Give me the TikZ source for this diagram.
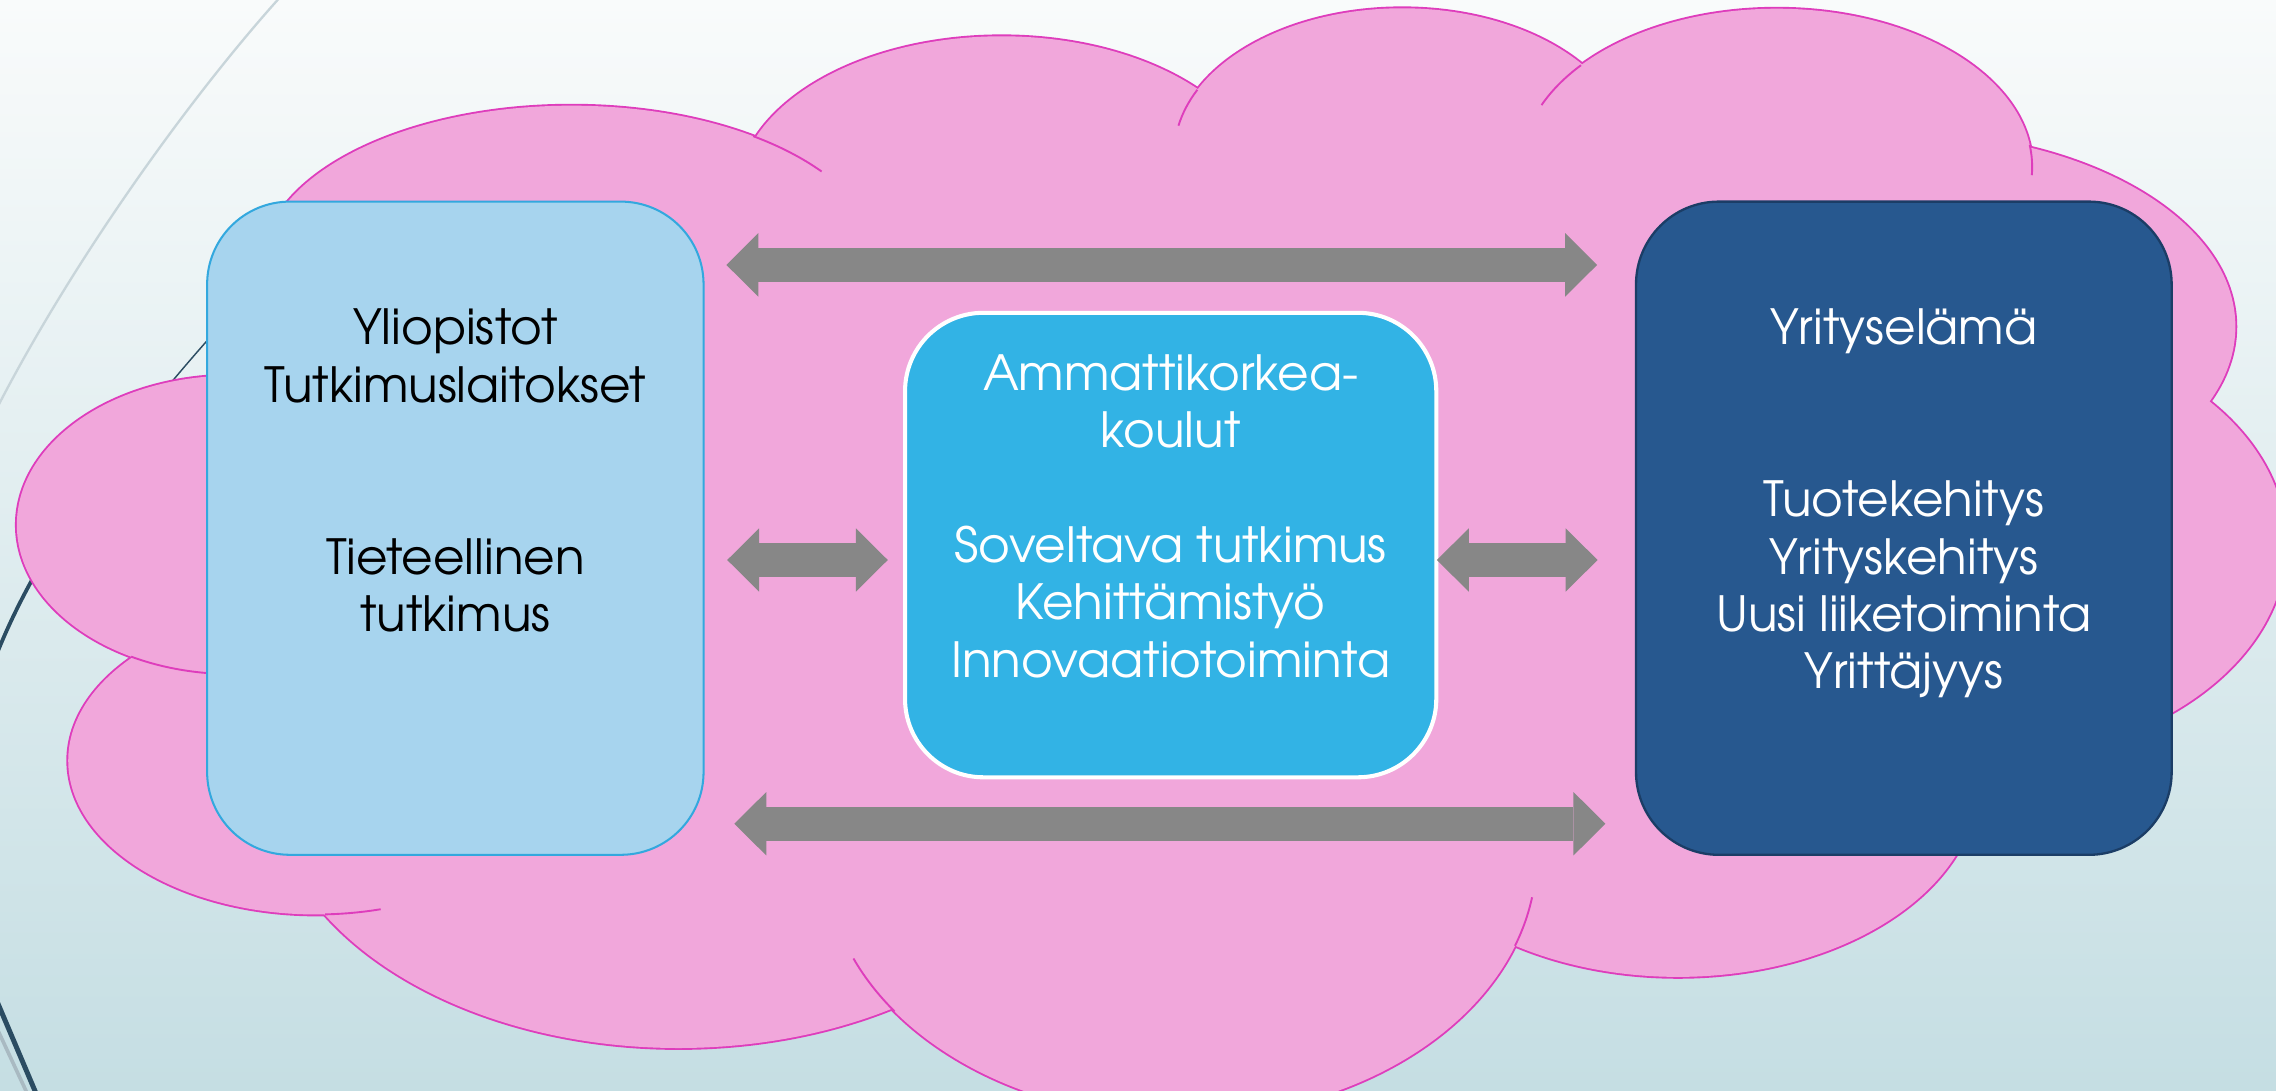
\documentclass[tikz,border=0pt]{standalone}
\usepackage{fontspec}
\setmainfont{TeX Gyre Adventor}
\usetikzlibrary{arrows.meta}
\definecolor{bgtop}{HTML}{F9FBFB}
\definecolor{bgbot}{HTML}{C5DEE3}
\definecolor{cloudfill}{HTML}{F1A7DB}
\definecolor{cloudline}{HTML}{DE3DBC}
\definecolor{lbfill}{HTML}{A7D4EE}
\definecolor{lbline}{HTML}{33A8DE}
\definecolor{mbfill}{HTML}{32B3E5}
\definecolor{rbfill}{HTML}{27588F}
\definecolor{rbline}{HTML}{1B3D66}
\definecolor{arrowgrey}{HTML}{878787}
\definecolor{navy}{HTML}{2B4C62}
\definecolor{paleline}{HTML}{C8D5DA}
\begin{document}
\begin{tikzpicture}[x=1pt,y=-1pt,
  lobeline/.style={draw=cloudline, line width=2.6pt},
  lobefill/.style={fill=cloudfill},
  tailline/.style={draw=cloudline, line width=1.3pt},
  boxbase/.style={rectangle, rounded corners=57pt, minimum width=342pt, minimum height=450pt, inner sep=0pt},
  leftbox/.style={boxbase, fill=lbfill, draw=lbline, line width=1.4pt},
  rightbox/.style={boxbase, minimum width=369pt, fill=rbfill, draw=rbline, line width=1.6pt},
  midbox/.style={boxbase, rounded corners=54pt, minimum width=366pt, minimum height=320pt, fill=mbfill, draw=white, line width=2.8pt},
  txt/.style={anchor=base, inner sep=0pt, font=\fontsize{33.4}{39.6}\selectfont},
  dbl/.style={draw=arrowgrey, line width=23.4pt,
    {Triangle[width=43.7pt,length=22pt,line width=0pt]}-{Triangle[width=43.7pt,length=22pt,line width=0pt]}}
]
\useasboundingbox (0,0) rectangle (1568,751);
\clip (0,0) rectangle (1568,751);
% background
\shade[top color=bgtop, bottom color=bgbot] (0,0) rectangle (1568,751);
% decorative lines
\draw[paleline, line width=1.6pt] (193,-2) .. controls (130,68) and (50,180) .. (-2,281);
\draw[navy, line width=1pt] (165,210) .. controls (132.7,244.9) and (98.95,284.9) .. (69.5,325.55);
\draw[navy, line width=2.6pt] (69.5,325.55) .. controls (40.1,366.2) and (15,407.5) .. (-2,450);
\draw[paleline!80!navy, line width=2.5pt] (-6,700) -- (20,756);
\draw[navy, line width=3.4pt] (-2,690) -- (26,756);
% cloud outlines
\foreach \cx/\cy/\rx/\ry in {393.7/182.8/213/110, 690/135/182/110, 966/105.7/157/100,
  1224/115/176/109, 1309.5/225/230.5/133.7, 1360/375/215/150, 1156/538.8/206.6/134.2,
  813.5/590/245/180, 467.5/537/282/185, 218/524/171/106, 160/361.6/148.4/102.8}
  \draw[lobeline] (\cx,\cy) ellipse [x radius=\rx, y radius=\ry];
% cloud fill
\foreach \cx/\cy/\rx/\ry in {393.7/182.8/213/110, 690/135/182/110, 966/105.7/157/100,
  1224/115/176/109, 1309.5/225/230.5/133.7, 1360/375/215/150, 1156/538.8/206.6/134.2,
  813.5/590/245/180, 467.5/537/282/185, 218/524/171/106, 160/361.6/148.4/102.8}
  \fill[lobefill] (\cx,\cy) ellipse [x radius=\rx, y radius=\ry];
\fill[lobefill] (200,160) -- (520,120) -- (830,90) -- (1100,70) -- (1400,130) -- (1500,300)
  -- (1490,480) -- (1340,585) -- (1050,640) -- (610,690) -- (250,610) -- (150,470) -- (150,270) -- cycle;
% inner tails
\draw[tailline] (393.7,182.8) ++(-54:213 and 110) arc[start angle=-54, end angle=-36, x radius=213, y radius=110];
\draw[tailline] (966,105.7) ++(206:157 and 100) arc[start angle=206, end angle=191, x radius=157, y radius=100];
\draw[tailline] (1224,115) ++(220:176 and 109) arc[start angle=220, end angle=203, x radius=176, y radius=109];
\draw[tailline] (1224,115) ++(-8:176 and 109) arc[start angle=-8, end angle=3, x radius=176, y radius=109];
\draw[tailline] (813.5,590) ++(143.6:245 and 180) arc[start angle=143.6, end angle=157, x radius=245, y radius=180];
\draw[tailline] (813.5,590) ++(20:245 and 180) arc[start angle=20, end angle=9, x radius=245, y radius=180];
\draw[tailline] (218,524) ++(88:171 and 106) arc[start angle=88, end angle=75, x radius=171, y radius=106];
\draw[tailline] (160,361.6) ++(118:148.4 and 102.8) arc[start angle=118, end angle=90, x radius=148.4, y radius=102.8];
% boxes
\node[leftbox] (lb) at (313.7,363.9) {};
\node[midbox] (mb) at (806.5,375.5) {};
\node[rightbox] (rb) at (1311.6,363.9) {};
% arrows
\draw[dbl, shorten <=15pt, shorten >=26pt] (lb.east |- 0,182.5) -- (rb.west |- 0,182.5);
\draw[dbl, shorten <=15.6pt, shorten >=10.5pt] (lb.east |- 0,385.8) -- (mb.west |- 0,385.8);
\draw[dbl, shorten <=-1pt, shorten >=25.7pt] (mb.east |- 0,385.8) -- (rb.west |- 0,385.8);
\draw[dbl, shorten <=20.5pt, shorten >=20.3pt] (lb.east |- 0,567.5) -- (rb.west |- 0,567.5);
% texts
\node[txt] (y1) at (313.7,237) {Yliopistot};
\node[txt] (y2) at (313.7,277) {Tutkimuslaitokset};
\node[txt] (y3) at (313.7,396) {Tieteellinen};
\node[txt] (y4) at (313.7,435) {tutkimus};
\node[txt, text=white] (m1) at (806.5,269) {Ammattikorkea-};
\node[txt, text=white] (m2) at (806.5,308.5) {koulut};
\node[txt, text=white] (m3) at (806.5,387.5) {Soveltava tutkimus};
\node[txt, text=white] (m4) at (806.5,427) {Kehittämistyö};
\node[txt, text=white] (m5) at (806.5,466.5) {Innovaatiotoiminta};
\node[txt, text=white] (r1) at (1311.6,237) {Yrityselämä};
\node[txt, text=white] (r2) at (1311.6,356) {Tuotekehitys};
\node[txt, text=white] (r3) at (1311.6,396) {Yrityskehitys};
\node[txt, text=white] (r4) at (1311.6,435) {Uusi liiketoiminta};
\node[txt, text=white] (r5) at (1311.6,474.5) {Yrittäjyys};
\end{tikzpicture}
\end{document}
